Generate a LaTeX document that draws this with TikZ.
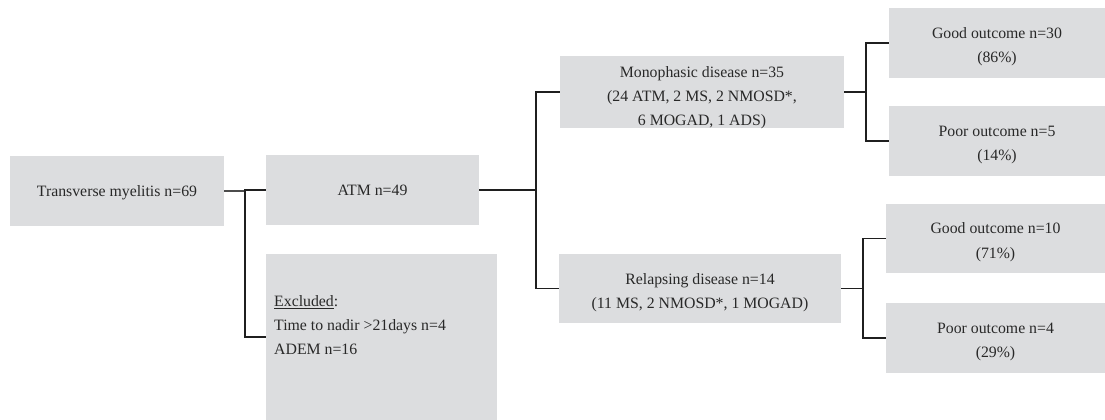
\documentclass[tikz,border=0pt]{standalone}
\usepackage{fontspec}
\setmainfont{Liberation Serif}
\definecolor{boxgrey}{RGB}{220,221,223}
\definecolor{txtgrey}{RGB}{40,40,40}
\newcommand{\boxtxt}[2][3pt]{\raisebox{-#1}[\height][\depth]{\begin{tabular}{@{}c@{}}#2\end{tabular}}}
\begin{document}
\begin{tikzpicture}[x=1pt,y=-1pt,
  box/.style={fill=boxgrey,draw=none,inner sep=0pt,anchor=center,
    text=txtgrey,font=\fontsize{15.8}{24.3}\selectfont},
  link/.style={draw=black!88,line width=1.5pt},
  lightlink/.style={draw=black!70,line width=1.3pt}]
\useasboundingbox (0,0) rectangle (1105,420);
\node[box,minimum width=214pt,minimum height=70pt] (T) at (117,191) {\boxtxt[1pt]{Transverse myelitis n=69}};
\node[box,minimum width=213pt,minimum height=70pt] (ATM) at (372.5,190) {\boxtxt[1pt]{ATM n=49}};
\node[box,minimum width=231pt,minimum height=166pt] (Exc) at (381.5,337) {};
\node[anchor=north west,align=left,inner sep=0pt,text=txtgrey,font=\fontsize{15.8}{24.3}\selectfont] (ExcT) at (274,295) {\underline{Excluded}:\\Time to nadir >21days n=4\\ADEM n=16};
\node[box,minimum width=284pt,minimum height=70pt] (Mono) at (702,92) {\boxtxt[4.5pt]{Monophasic disease n=35\\(24 ATM, 2 MS, 2 NMOSD*,\\6 MOGAD, 1 ADS)}};
\node[box,minimum width=282pt,minimum height=69pt] (Rel) at (700,288.5) {\boxtxt[3pt]{Relapsing disease n=14\\(11 MS, 2 NMOSD*, 1 MOGAD)}};
\node[box,minimum width=216pt,minimum height=70pt] (G30) at (997,43) {\boxtxt[2.5pt]{Good outcome n=30\\(86\%)}};
\node[box,minimum width=216pt,minimum height=70pt] (P5) at (997,141) {\boxtxt[2.5pt]{Poor outcome n=5\\(14\%)}};
\node[box,minimum width=219pt,minimum height=69pt] (G10) at (995.5,238.5) {\boxtxt[2.5pt]{Good outcome n=10\\(71\%)}};
\node[box,minimum width=219pt,minimum height=70pt] (P4) at (995.5,338) {\boxtxt[2.5pt]{Poor outcome n=4\\(29\%)}};
\coordinate (j1) at (245,191);
\coordinate (j2) at (536,190);
\coordinate (j3) at (866,92);
\coordinate (j4) at (863,288.5);
\draw[lightlink] (T.east) -- (j1);
\draw[link] (ATM.west) -| (j1) |- (Exc.west);
\draw[link] (ATM.east) -- (j2);
\draw[link] (Mono.west) -| (j2) |- (Rel.west);
\draw[link] (Mono.east) -- (j3);
\draw[link] (G30.west) -| (j3) |- (P5.west);
\draw[link] (Rel.east) -- (j4);
\draw[link] (G10.west) -| (j4) |- (P4.west);
\end{tikzpicture}
\end{document}
